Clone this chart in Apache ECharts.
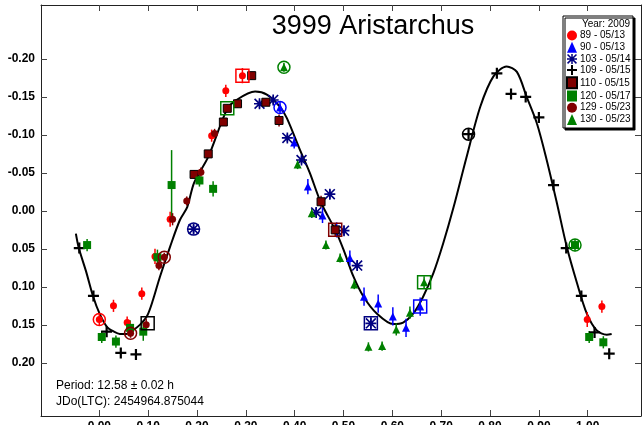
<!DOCTYPE html>
<html><head><meta charset="utf-8">
<script src="https://cdn.jsdelivr.net/npm/echarts@6/dist/echarts.min.js"></script>
<style>html,body{margin:0;padding:0;background:#fff;overflow:hidden}#c{width:642px;height:425px}</style>
</head><body><div id="c"></div><script>
const titleText = '3999 Aristarchus';
const xTicks = [0, 0.1, 0.2, 0.3, 0.4, 0.5, 0.6, 0.7, 0.8, 0.9, 1.0];
const yTicks = [-0.2, -0.15, -0.1, -0.05, 0, 0.05, 0.1, 0.15, 0.2];
const legendNames = ['89 - 05/13','90 - 05/13','103 - 05/14','109 - 05/15','110 - 05/15','120 - 05/17','129 - 05/23','130 - 05/23'];
const infoLines = ['Period: 12.58 \u00b1 0.02 h', 'JDo(LTC): 2454964.875044'];

const fitCurve = [[-0.048,0.030],[-0.042,0.049],[-0.027,0.080],[-0.013,0.112],[0.001,0.136],[0.016,0.153],[0.030,0.159],[0.042,0.162],[0.055,0.162],[0.067,0.158],[0.083,0.150],[0.098,0.138],[0.110,0.117],[0.124,0.087],[0.145,0.047],[0.165,0.012],[0.180,-0.005],[0.194,-0.037],[0.223,-0.071],[0.261,-0.133],[0.281,-0.146],[0.319,-0.157],[0.343,-0.153],[0.370,-0.137],[0.384,-0.122],[0.411,-0.080],[0.431,-0.050],[0.453,-0.012],[0.483,0.025],[0.500,0.051],[0.520,0.086],[0.541,0.113],[0.568,0.135],[0.602,0.149],[0.622,0.147],[0.643,0.135],[0.663,0.113],[0.684,0.082],[0.704,0.043],[0.725,-0.004],[0.752,-0.071],[0.780,-0.137],[0.807,-0.177],[0.834,-0.190],[0.855,-0.183],[0.875,-0.150],[0.896,-0.115],[0.916,-0.067],[0.937,-0.010],[0.957,0.047],[0.978,0.095],[0.998,0.135],[1.018,0.157],[1.039,0.163],[1.049,0.162]];

const s89 = [[0.000,0.143,0.008],[0.029,0.125,0.008],[0.057,0.147,0.008],[0.087,0.109,0.008],[0.114,0.060,0.010],[0.145,0.011,0.010],[0.230,-0.099,0.008],[0.259,-0.158,0.008],[0.293,-0.178,0.010],[0.999,0.143,0.010],[1.029,0.126,0.008]];
const s90 = [[0.370,-0.136,0.008],[0.399,-0.090,0.008],[0.427,-0.032,0.010],[0.457,0.006,0.010],[0.486,0.025,0.010],[0.513,0.062,0.010],[0.542,0.113,0.012],[0.571,0.122,0.012],[0.601,0.139,0.012],[0.628,0.154,0.012],[0.657,0.126,0.012]];
const s103 = [[0.193,0.024,0.006],[0.328,-0.141,0.005],[0.356,-0.146,0.005],[0.385,-0.096,0.005],[0.414,-0.067,0.005],[0.444,0.002,0.006],[0.472,-0.022,0.006],[0.501,0.026,0.006],[0.528,0.072,0.006],[0.556,0.148,0.008]];
const s109 = [[-0.041,0.049,0],[-0.012,0.112,0],[0.015,0.159,0],[0.044,0.187,0],[0.075,0.189,0],[0.756,-0.101,0],[0.814,-0.181,0],[0.843,-0.154,0],[0.873,-0.150,0],[0.900,-0.123,0],[0.930,-0.034,0],[0.956,0.049,0],[0.987,0.112,0],[1.014,0.160,0],[1.044,0.188,0]];
const s110 = [[0.194,-0.048,0.005],[0.223,-0.075,0.005],[0.254,-0.117,0.005],[0.262,-0.135,0.005],[0.283,-0.141,0.005],[0.312,-0.178,0.005],[0.341,-0.143,0.005],[0.368,-0.119,0.008],[0.454,-0.012,0.008],[0.483,0.025,0.008]];
const s120 = [[-0.025,0.045,0.008],[0.005,0.166,0.008],[0.034,0.172,0.008],[0.063,0.154,0.010],[0.090,0.159,0.012],[0.119,0.061,0.010],[0.148,-0.034,0.046],[0.205,-0.040,0.008],[0.233,-0.029,0.010],[0.974,0.045,0.008],[1.003,0.166,0.008],[1.032,0.173,0.008]];
const s129 = [[0.064,0.161,0.006],[0.096,0.150,0.008],[0.122,0.072,0.006],[0.133,0.061,0.006],[0.150,0.011,0.008],[0.179,-0.013,0.006],[0.208,-0.051,0.006],[0.236,-0.102,0.006]];
const s130 = [[0.378,-0.189,0.006],[0.406,-0.061,0.006],[0.435,0.003,0.006],[0.464,0.045,0.006],[0.493,0.062,0.006],[0.522,0.097,0.006],[0.551,0.179,0.006],[0.579,0.178,0.006],[0.608,0.156,0.008],[0.636,0.134,0.008],[0.665,0.094,0.008]];

// session start/end markers: [x, y, shape, color]
const highlights = [[0.000,0.143,'circle','#ff0000'],[0.064,0.161,'circle','#800000'],[0.133,0.061,'circle','#800000'],[0.193,0.024,'circle','#000080'],[0.370,-0.136,'circle','#0000ff'],[0.378,-0.189,'circle','#008000'],[0.756,-0.101,'circle','#000000'],[0.974,0.045,'circle','#008000'],[0.099,0.148,'rect','#000000'],[0.293,-0.178,'rect','#ff0000'],[0.262,-0.135,'rect','#008000'],[0.483,0.025,'rect','#800000'],[0.556,0.148,'rect','#000080'],[0.657,0.126,'rect','#0000ff'],[0.665,0.094,'rect','#008000']];

const FONT = 'Arial, "Liberation Sans", sans-serif';
const PLUS = 'path://M4,0H6V4H10V6H6V10H4V6H0V4H4Z';
const STAR = 'path://M8.5,0H11.5V20H8.5Z M0,8.5H20V11.5H0Z M2.1,0L20,17.9L17.9,20L0,2.1Z M17.9,0L20,2.1L2.1,20L0,17.9Z';

function errSeries(data, color) {
  return {
    type: 'custom', silent: true, z: 3, data: data,
    encode: {x: 0, y: 1},
    renderItem: function (p, api) {
      const e = api.value(2);
      if (!e) return null;
      const a = api.coord([api.value(0), api.value(1) - e]);
      const b = api.coord([api.value(0), api.value(1) + e]);
      return {type: 'line', shape: {x1: a[0], y1: a[1], x2: b[0], y2: b[1]}, style: {stroke: color, lineWidth: 1.5}};
    }
  };
}
function scat(name, data, symbol, size, color, border) {
  return {
    type: 'scatter', name: name, data: data, symbol: symbol, symbolSize: size, z: 5,
    itemStyle: {color: color, borderColor: border || color, borderWidth: border ? 1 : 0, opacity: 1},
    emphasis: {disabled: true}
  };
}

const series = [
  {type: 'line', data: fitCurve, smooth: 0.3, showSymbol: false, silent: true, z: 2,
   lineStyle: {color: '#000', width: 2}},
  errSeries(s89, '#ff0000'), errSeries(s90, '#0000ff'), errSeries(s103, '#000080'),
  errSeries(s110, '#800000'), errSeries(s120, '#008000'), errSeries(s129, '#800000'), errSeries(s130, '#008000'),
  scat(legendNames[0], s89, 'circle', 7, '#ff0000'),
  scat(legendNames[1], s90, 'triangle', 8, '#0000ff'),
  scat(legendNames[2], s103, STAR, 11, '#000080'),
  scat(legendNames[3], s109, PLUS, 11, '#000000'),
  scat(legendNames[4], s110, 'rect', 8, '#800000', '#000000'),
  scat(legendNames[5], s120, 'rect', 8, '#008000'),
  scat(legendNames[6], s129, 'circle', 7, '#800000'),
  scat(legendNames[7], s130, 'triangle', 8, '#008000'),
  {type: 'custom', silent: true, z: 6, data: highlights.map(h => [h[0], h[1]]),
   encode: {x: 0, y: 1},
   renderItem: function (p, api) {
     const h = highlights[p.dataIndex];
     const c = api.coord([api.value(0), api.value(1)]);
     if (h[2] === 'circle') {
       return {type: 'circle', shape: {cx: c[0], cy: c[1], r: 6}, style: {fill: 'none', stroke: h[3], lineWidth: 1.5}};
     }
     return {type: 'rect', shape: {x: c[0] - 6.5, y: c[1] - 6.5, width: 13, height: 13}, style: {fill: 'none', stroke: h[3], lineWidth: 1.5}};
   }}
];

const axisCommon = {
  type: 'value', splitLine: {show: false},
  axisLine: {show: true, onZero: false, lineStyle: {color: '#222', width: 1}}
};
const chart = echarts.init(document.getElementById('c'), null, {renderer: 'canvas'});
chart.setOption({
  animation: false,
  backgroundColor: '#fff',
  grid: {left: 41, right: 1, top: 5, bottom: 9, containLabel: false, outerBoundsMode: 'none'},
  xAxis: [
    Object.assign({}, axisCommon, {min: -0.1194, max: 1.1091, position: 'bottom',
      axisTick: {show: true, inside: true, length: 6, customValues: xTicks, lineStyle: {color: '#444'}},
      axisLabel: {customValues: xTicks, formatter: v => v.toFixed(2), fontWeight: 'bold', fontSize: 12, color: '#000', margin: 5, fontFamily: FONT}}),
    Object.assign({}, axisCommon, {min: -0.1194, max: 1.1091, position: 'top',
      axisTick: {show: true, inside: true, length: 6, customValues: xTicks, lineStyle: {color: '#444'}},
      axisLabel: {show: false}})
  ],
  yAxis: [
    Object.assign({}, axisCommon, {min: -0.271, max: 0.270, inverse: true, position: 'left',
      axisTick: {show: true, inside: true, length: 6, customValues: yTicks, lineStyle: {color: '#444'}},
      axisLabel: {customValues: yTicks, formatter: v => v.toFixed(2), fontWeight: 'bold', fontSize: 12, color: '#000', margin: 6, fontFamily: FONT}}),
    Object.assign({}, axisCommon, {min: -0.271, max: 0.270, inverse: true, position: 'right',
      axisTick: {show: true, inside: true, length: 6, customValues: yTicks, lineStyle: {color: '#444'}},
      axisLabel: {show: false}})
  ],
  legend: {
    data: legendNames, orient: 'vertical', left: 566, top: 30.5, padding: 0,
    itemWidth: 10, itemHeight: 11, itemGap: 1.2, selectedMode: false, z: 20,
    textStyle: {fontSize: 10, color: '#000', fontFamily: FONT, padding: [0, 0, 0, -2]}
  },
  graphic: [
    {type: 'rect', z: 10, shape: {x: 563, y: 16, width: 70, height: 112},
     style: {fill: '#fff', stroke: '#000', lineWidth: 1, shadowColor: '#000', shadowOffsetX: 2, shadowOffsetY: 2, shadowBlur: 0}},
    {type: 'text', z: 21, x: 630, y: 24, style: {text: 'Year: 2009', align: 'right', verticalAlign: 'middle', font: '10px ' + FONT, fill: '#000'}},
    {type: 'text', z: 21, x: 373, y: 27, style: {text: titleText, align: 'center', verticalAlign: 'middle', font: '27px ' + FONT, fill: '#000'}},
    {type: 'text', z: 21, x: 56, y: 386, style: {text: infoLines[0], align: 'left', verticalAlign: 'middle', font: '12px ' + FONT, fill: '#000'}},
    {type: 'text', z: 21, x: 56, y: 402, style: {text: infoLines[1], align: 'left', verticalAlign: 'middle', font: '12px ' + FONT, fill: '#000'}}
  ],
  series: series
});
</script></body></html>
